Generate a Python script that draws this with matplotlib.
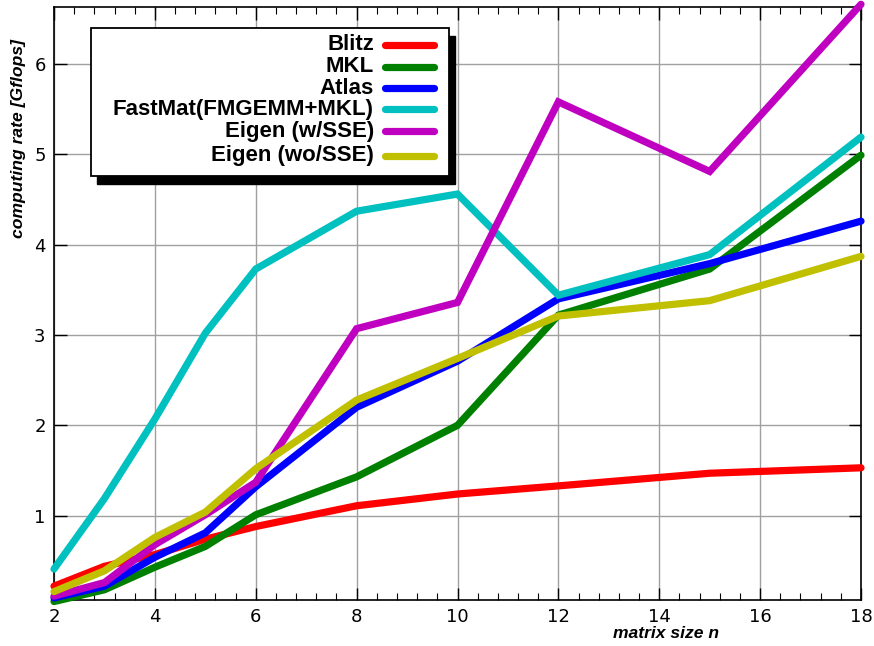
import matplotlib

matplotlib.use("Agg")
import matplotlib.pyplot as plt
from matplotlib.patches import Rectangle
from matplotlib.ticker import MultipleLocator

# %% data
n = [2, 3, 4, 5, 6, 8, 10, 12, 15, 18]
blitz = [0.22, 0.44, 0.57, 0.74, 0.88, 1.11, 1.24, 1.33, 1.47, 1.53]
mkl = [0.05, 0.18, 0.43, 0.66, 1.01, 1.43, 2.00, 3.22, 3.73, 4.99]
atlas = [0.09, 0.22, 0.54, 0.81, 1.32, 2.20, 2.71, 3.40, 3.79, 4.26]
fastmat = [0.41, 1.19, 2.07, 3.02, 3.73, 4.37, 4.56, 3.44, 3.89, 5.19]
eigen_sse = [0.11, 0.26, 0.68, 1.01, 1.37, 3.07, 3.36, 5.58, 4.81, 6.66]
eigen_nosse = [0.16, 0.39, 0.76, 1.04, 1.52, 2.28, 2.74, 3.21, 3.38, 3.87]

labels = ["Blitz", "MKL", "Atlas", "FastMat(FMGEMM+MKL)", "Eigen (w/SSE)", "Eigen (wo/SSE)"]
colors = ["#ff0000", "#008000", "#0000ff", "#00c0c0", "#c000c0", "#c0c000"]
series = [blitz, mkl, atlas, fastmat, eigen_sse, eigen_nosse]

# %% figure
W, H = 874, 646
fig = plt.figure(figsize=(W / 100, H / 100), dpi=100)
ax = fig.add_axes([54 / W, 1 - 600 / H, (861 - 54) / W, (600 - 7) / H])

for y, c in zip(series, colors):
    ax.plot(n, y, color=c, lw=5.2, solid_capstyle="round", solid_joinstyle="miter", clip_on=False, zorder=3)

ax.set_xlim(2, 18)
ax.set_ylim(0.067, 6.63)
ax.xaxis.set_major_locator(MultipleLocator(2))
ax.xaxis.set_minor_locator(MultipleLocator(0.4))
ax.yaxis.set_major_locator(MultipleLocator(1))
ax.grid(True, which="major", color="#a0a0a0", lw=1.0)
ax.tick_params(which="major", direction="in", length=9, width=1, top=True, right=True, labelsize=13, pad=6)
ax.tick_params(which="minor", direction="in", length=5, width=0.8, top=True, right=False)
ax.tick_params(axis="y", which="minor", left=False, right=False)
for s in ax.spines.values():
    s.set_linewidth(1.2)

lab_font = dict(family="Liberation Sans", weight="bold", style="italic", size=12.6)
fig.text(666 / W, 1 - 633 / H, "matrix size n", ha="center", va="center", **lab_font)
fig.text(19 / W, 1 - 138 / H, "computing rate [Gflops]", rotation=90, ha="center", va="center", **lab_font)

# %% hand-drawn legend box with a solid black shadow
fig.add_artist(Rectangle((97 / W, 1 - 184 / H), 358 / W, 148 / H, transform=fig.transFigure,
                         facecolor="black", edgecolor="black", zorder=5))
fig.add_artist(Rectangle((91 / W, 1 - 176 / H), 358 / W, 148 / H, transform=fig.transFigure,
                         facecolor="white", edgecolor="black", lw=1.3, zorder=6))
rows = [45, 67, 88, 109, 131, 156]
for lab, c, py in zip(labels, colors, rows):
    fy = 1 - py / H
    fig.text(374 / W, fy, lab, ha="right", va="center", family="Liberation Sans",
             weight="bold", size=16, zorder=7)
    fig.add_artist(plt.Line2D([385 / W, 434 / W], [fy, fy], transform=fig.transFigure,
                              color=c, lw=5.2, solid_capstyle="round", zorder=7))

fig.savefig("out.png", dpi=100)
